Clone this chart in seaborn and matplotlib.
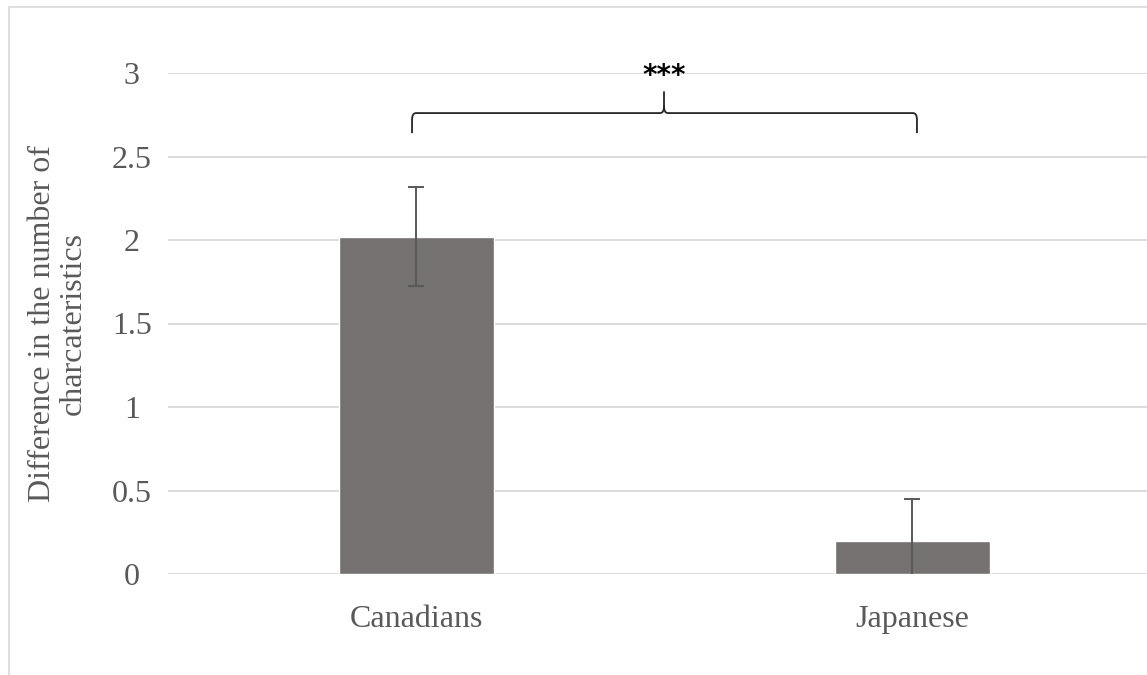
import matplotlib
matplotlib.use("Agg")
import matplotlib.pyplot as plt
import matplotlib.patches as mpatches
from matplotlib.path import Path
import seaborn as sns
import pandas as pd

# Data
groups = ["Canadians", "Japanese"]
means = [2.02, 0.20]
errors = [0.295, 0.25]
y_ticks = [0, 0.5, 1, 1.5, 2, 2.5, 3]
y_tick_labels = ["0", "0.5", "1", "1.5", "2", "2.5", "3"]
y_label = "Difference in the number of\ncharcateristics"
sig_label = "***"

bar_color = "#767171"
err_color = "#595959"
grid_color = "#d9d9d9"
text_color = "#595959"

sns.set_theme(style="white")
plt.rcParams["font.family"] = ["Liberation Serif", "DejaVu Serif"]

df = pd.DataFrame({"group": groups, "mean": means, "err": errors})

fig = plt.figure(figsize=(11.47, 6.75), dpi=100)
ax = fig.add_axes([168 / 1147, 1 - 574 / 675, (1160 - 168) / 1147, (574 - 73) / 675])

sns.barplot(data=df, x="group", y="mean", color=bar_color, saturation=1,
            width=0.3125, errorbar=None, ax=ax, zorder=2)
ax.errorbar(range(len(groups)), df["mean"], yerr=df["err"], fmt="none",
            ecolor=err_color, elinewidth=1.4, capsize=6, capthick=1.4, zorder=3)

ax.set_xlim(-0.5, 1.5)
ax.set_ylim(0, 3)
ax.set_yticks(y_ticks)
ax.set_yticklabels(y_tick_labels)
ax.yaxis.grid(True, color=grid_color, linewidth=1.3, zorder=0)
ax.set_axisbelow(True)
for s in ax.spines.values():
    s.set_visible(False)
ax.tick_params(axis="both", length=0, labelsize=23, colors=text_color)
ax.tick_params(axis="y", pad=26)
ax.tick_params(axis="x", pad=22)
for lbl in ax.get_yticklabels():
    lbl.set_horizontalalignment("center")
ax.set_xlabel("")
ax.set_ylabel(y_label, fontsize=23, color=text_color, linespacing=1.05)
ax.yaxis.label.set_va("center")
ax.yaxis.set_label_coords((58 - 168) / 992, 0.5)

# Significance bracket between the two groups
xl, xr, xm = -0.008, 1.01, 0.5
y_end, y_bar, y_tip = 2.64, 2.76, 2.89
dx, dy = 0.008, 0.04
verts = [
    (xl, y_end), (xl, y_bar - dy), (xl, y_bar), (xl + dx, y_bar),
    (xm - dx, y_bar), (xm, y_bar), (xm, y_bar + dy), (xm, y_tip),
    (xm, y_bar + dy), (xm, y_bar), (xm + dx, y_bar),
    (xr - dx, y_bar), (xr, y_bar), (xr, y_bar - dy), (xr, y_end),
]
codes = [
    Path.MOVETO, Path.LINETO, Path.CURVE3, Path.CURVE3,
    Path.LINETO, Path.CURVE3, Path.CURVE3, Path.LINETO,
    Path.MOVETO, Path.CURVE3, Path.CURVE3,
    Path.LINETO, Path.CURVE3, Path.CURVE3, Path.LINETO,
]
ax.add_patch(mpatches.PathPatch(Path(verts, codes), facecolor="none",
                                edgecolor="#262626", linewidth=1.3,
                                clip_on=False, zorder=4))
ax.text(xm, 2.985, sig_label, ha="center", va="center", fontsize=20,
        fontweight="bold", family=["DejaVu Sans"], color="black",
        clip_on=False, zorder=5)

# Chart-area border
fig.patches.append(mpatches.Rectangle((8.5 / 1147, -0.1), 1.2, 1.1 - 7.5 / 675,
                                      transform=fig.transFigure, fill=False,
                                      edgecolor=grid_color, linewidth=1.2))

fig.savefig("out.png", dpi=100)
